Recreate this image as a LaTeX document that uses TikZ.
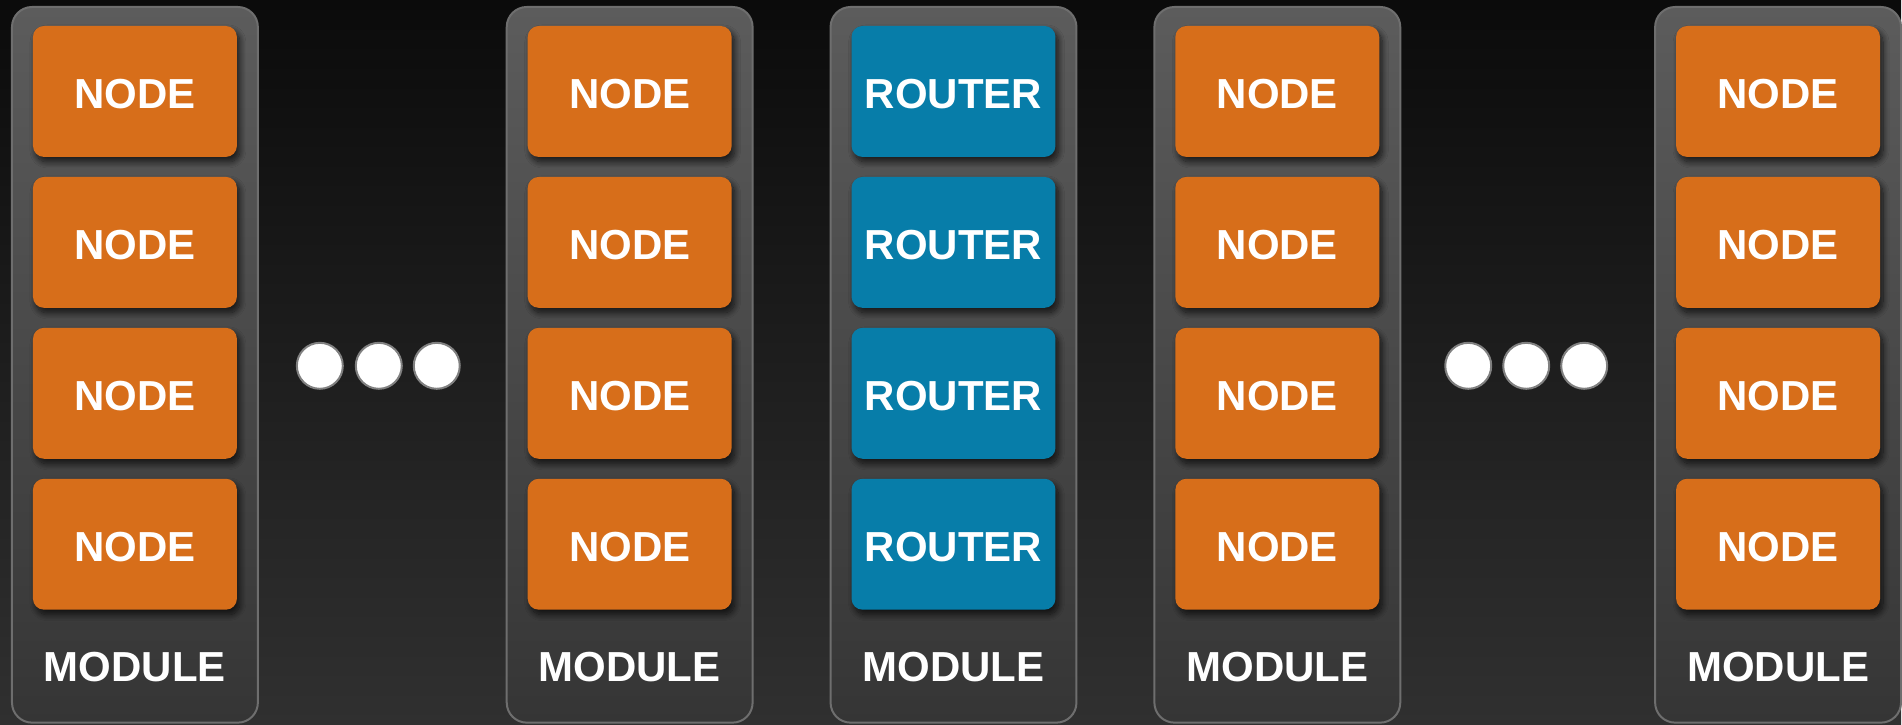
\documentclass[tikz,border=0pt]{standalone}
\usepackage{fontspec}
\setmainfont{Liberation Sans}
\usetikzlibrary{shadows}
\usetikzlibrary{shadows.blur}
\usetikzlibrary{positioning}

\definecolor{bgtop}{HTML}{0B0B0B}
\definecolor{bgbot}{HTML}{303030}
\definecolor{modtop}{HTML}{5C5C5C}
\definecolor{modbot}{HTML}{353535}
\definecolor{modedge}{HTML}{6E6E6E}
\definecolor{nodeorange}{HTML}{D76E1A}
\definecolor{routerblue}{HTML}{077DA9}

\begin{document}
\begin{tikzpicture}[x=1pt, y=-1pt,
    module/.style={draw=modedge, line width=2pt, rounded corners=20pt,
        top color=modtop, bottom color=modbot,
        minimum width=246pt, minimum height=716pt},
    unitbox/.style={rounded corners=11pt, minimum width=204pt, minimum height=131pt,
        text=white, font=\fontsize{42}{48}\selectfont\bfseries,
        text height=34pt, text depth=0pt,
        blur shadow={shadow xshift=3pt, shadow yshift=-5pt,
            shadow blur radius=6pt, shadow blur steps=12, shadow opacity=70}},
    nodebox/.style={unitbox, fill=nodeorange},
    routerbox/.style={unitbox, fill=routerblue},
    modlabel/.style={text=white, font=\fontsize{42}{48}\selectfont\bfseries},
    dot/.style={circle, inner sep=0pt, minimum size=46pt, fill=white,
        draw=gray, line width=2pt}]
    \fill[top color=bgtop, bottom color=bgbot] (0,0) rectangle (1902,725);
    \foreach \m/\x/\kind/\txt in {1/135/nodebox/NODE, 2/630/nodebox/NODE,
            3/954/routerbox/ROUTER, 4/1278/nodebox/NODE, 5/1779/nodebox/NODE} {
        \node[module] (m\m) at (\x,365) {};
        \foreach \r/\y in {1/91.5, 2/242.5, 3/393.5, 4/544.5}
            \node[\kind] (m\m-\r) at (\x,\y) {\txt};
        \node[modlabel] (lab\m) at (\x,667) {MODULE};
    }
    % dots between modules
    \foreach \i/\x in {1/320, 2/379, 3/437}
        \node[dot] (dl\i) at (\x,366) {};
    \foreach \i/\x in {1/1469, 2/1527, 3/1585}
        \node[dot] (dr\i) at (\x,366) {};
\end{tikzpicture}
\end{document}
